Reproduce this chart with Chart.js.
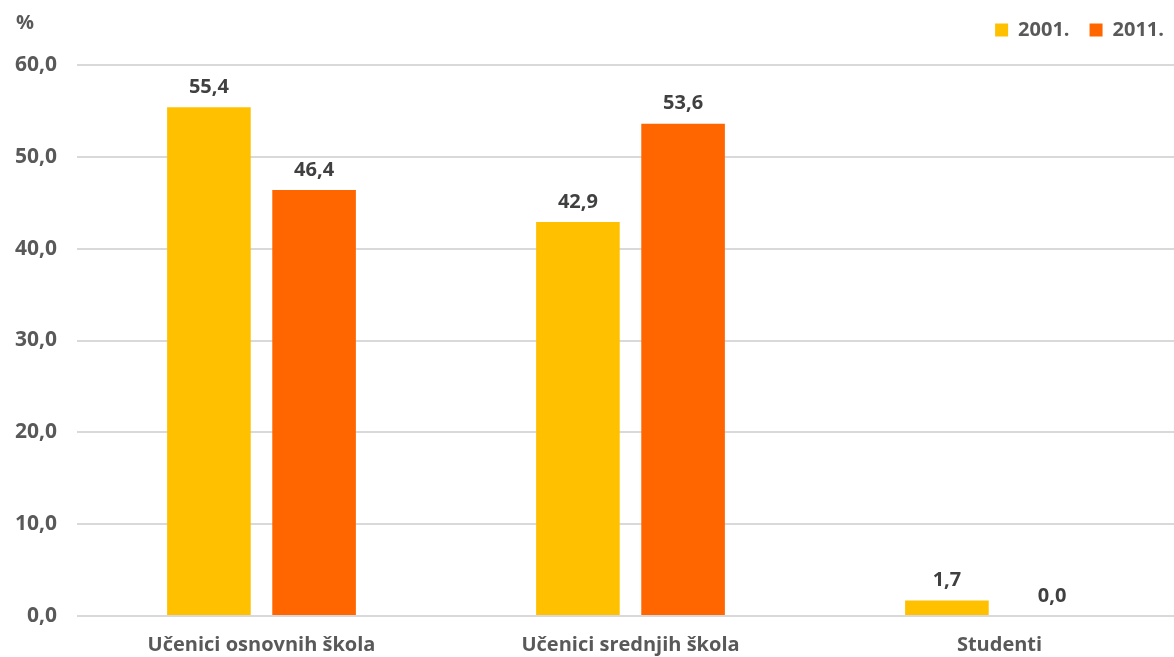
<!DOCTYPE html>
<html>
<head>
<meta charset="utf-8">
<script src="https://cdn.jsdelivr.net/npm/chart.js@4.4.0/dist/chart.umd.min.js"></script>
<style>
  html, body { margin: 0; padding: 0; background: #fff; overflow: hidden; }
  #wrap { width: 1184px; height: 657px; }
</style>
</head>
<body>
<div id="wrap"><canvas id="canvas"></canvas></div>
<script>
const categories = ['Učenici osnovnih škola', 'Učenici srednjih škola', 'Studenti'];
const years = ['2001.', '2011.'];
const values2001 = [55.4, 42.9, 1.7];
const values2011 = [46.4, 53.6, 0.0];
const yTicks = [0, 10, 20, 30, 40, 50, 60];

const fontFamily = '"Open Sans", "DejaVu Sans", sans-serif';
const textColor = '#595959';

function fmt(v) {
    return v.toFixed(1).replace('.', ',');
}

// value labels above the bars + the "%" unit
const labelsPlugin = {
    id: 'barLabels',
    afterDatasetsDraw(chart) {
        const ctx = chart.ctx;
        ctx.save();
        ctx.font = 'bold 20px ' + fontFamily;
        ctx.fillStyle = '#404040';
        ctx.textAlign = 'center';
        ctx.textBaseline = 'middle';
        chart.data.datasets.forEach((ds, i) => {
            chart.getDatasetMeta(i).data.forEach((bar, j) => {
                ctx.fillText(fmt(ds.data[j]), bar.x, bar.y - 20);
            });
        });
        ctx.fillStyle = textColor;
        ctx.textAlign = 'left';
        ctx.fillText('%', 16, 23);
        ctx.restore();
    }
};

// a bit more room under the legend
const legendSpace = {
    id: 'legendSpace',
    beforeInit(chart) {
        const fit = chart.legend.fit;
        chart.legend.fit = function () {
            fit.bind(chart.legend)();
            this.height += 15;
        };
    }
};

const ctx = document.getElementById('canvas').getContext('2d');
const myChart = new Chart(ctx, {
    type: 'bar',
    data: {
        labels: categories,
        datasets: [
            { label: years[0], data: values2001, backgroundColor: '#FFC000' },
            { label: years[1], data: values2011, backgroundColor: '#FF6600' },
        ]
    },
    options: {
        responsive: true,
        maintainAspectRatio: false,
        animation: false,
        categoryPercentage: 0.57,
        barPercentage: 0.795,
        layout: { padding: 0 },
        plugins: {
            legend: {
                position: 'top',
                align: 'end',
                labels: {
                    boxWidth: 13,
                    boxHeight: 13,
                    padding: 20,
                    color: textColor,
                    font: { family: fontFamily, size: 20, weight: 'bold' }
                }
            },
            tooltip: { enabled: false }
        },
        scales: {
            x: {
                grid: { display: false, drawTicks: false },
                border: { display: false },
                afterFit: axis => { axis.height = 41; },
                ticks: {
                    padding: 17,
                    color: textColor,
                    font: { family: fontFamily, size: 20, weight: 'bold' }
                }
            },
            y: {
                min: 0,
                max: 60,
                afterBuildTicks: axis => { axis.ticks = yTicks.map(v => ({ value: v })); },
                afterFit: axis => { axis.width = 77; },
                grid: { color: '#d9d9d9', lineWidth: 2, drawTicks: false },
                border: { display: false },
                ticks: {
                    padding: 20,
                    color: textColor,
                    font: { family: fontFamily, size: 21, weight: 'bold' },
                    callback: v => fmt(v)
                }
            }
        }
    },
    plugins: [labelsPlugin, legendSpace]
});
</script>
</body>
</html>
